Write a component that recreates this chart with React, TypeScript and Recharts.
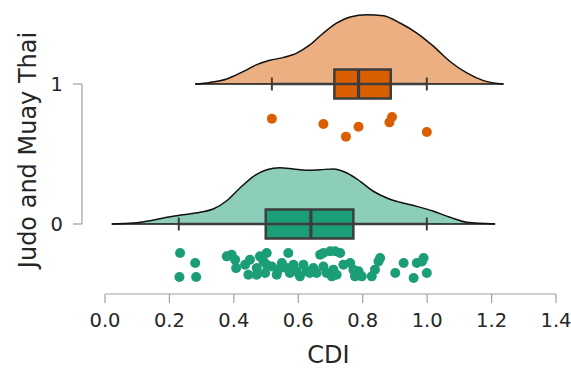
import {
  ComposedChart,
  Area,
  Scatter,
  XAxis,
  YAxis,
  ReferenceArea,
  ReferenceLine,
} from "recharts";

const FONT = "'DejaVu Sans', sans-serif";
const INK = "#262626";
const SPINE = "#a0a0a0";
const EDGE = "#3d3d3d";

const xTicks = [0, 0.2, 0.4, 0.6, 0.8, 1.0, 1.2, 1.4];
const groupTicks = [0, 1];

// group 1 – the orange "cloud" (density outline)
const densityXOne = [0.28, 0.326, 0.378, 0.43, 0.471, 0.512, 0.554, 0.595, 0.637, 0.678, 0.72, 0.761, 0.813, 0.864, 0.916, 0.968, 1.02, 1.071, 1.123, 1.175, 1.237];
const densityOne = [0, 0.011, 0.036, 0.09, 0.138, 0.169, 0.19, 0.221, 0.281, 0.364, 0.436, 0.479, 0.495, 0.488, 0.436, 0.364, 0.269, 0.161, 0.079, 0.024, 0];
const pointsOne = [0.518, 0.678, 0.748, 0.787, 0.883, 0.891, 0.999];
const jitterOne = [0.248, 0.286, 0.376, 0.305, 0.274, 0.236, 0.343];
// low whisker, q1, median, q3, high whisker
const boxOne = [0.518, 0.712, 0.787, 0.887, 0.999];

// group 0 – the green one
const densityXZero = [0.021, 0.088, 0.14, 0.192, 0.243, 0.295, 0.336, 0.378, 0.419, 0.461, 0.502, 0.543, 0.585, 0.626, 0.668, 0.709, 0.751, 0.792, 0.833, 0.875, 0.916, 0.968, 1.02, 1.071, 1.123, 1.211];
const densityZero = [0, 0.007, 0.024, 0.048, 0.066, 0.084, 0.107, 0.166, 0.257, 0.341, 0.388, 0.402, 0.393, 0.384, 0.388, 0.393, 0.364, 0.305, 0.234, 0.186, 0.155, 0.126, 0.091, 0.048, 0.012, 0];
const pointsZero = [
  0.233, 0.28, 0.231, 0.283, 0.393, 0.404, 0.407, 0.435, 0.445, 0.471,
  0.481, 0.502, 0.492, 0.497, 0.518, 0.538, 0.549, 0.569, 0.564, 0.574,
  0.595, 0.616, 0.626, 0.647, 0.657, 0.678, 0.699, 0.714, 0.73, 0.678,
  0.688, 0.709, 0.719, 0.74, 0.761, 0.771, 0.776, 0.797, 0.828, 0.838,
  0.849, 0.854, 0.901, 0.927, 0.958, 0.968, 0.989, 0.999, 0.45, 0.471,
  0.533, 0.502, 0.585, 0.605, 0.636, 0.668, 0.704, 0.787, 0.984, 0.378,
];
const jitterZero = [
  0.207, 0.279, 0.379, 0.379, 0.219, 0.255, 0.315, 0.291, 0.362, 0.315,
  0.231, 0.207, 0.267, 0.35, 0.303, 0.326, 0.279, 0.207, 0.315, 0.35,
  0.338, 0.291, 0.338, 0.315, 0.35, 0.207, 0.195, 0.195, 0.207, 0.303,
  0.35, 0.326, 0.362, 0.291, 0.279, 0.326, 0.374, 0.374, 0.374, 0.326,
  0.267, 0.243, 0.35, 0.279, 0.386, 0.279, 0.243, 0.35, 0.255, 0.362,
  0.362, 0.291, 0.291, 0.374, 0.35, 0.219, 0.374, 0.338, 0.267, 0.231,
];
const boxZero = [0.229, 0.499, 0.639, 0.771, 0.999];

const BOX_HALF = 0.104;
const CAP_HALF = 0.046;
const SPINE_X = -0.0714;

const groups = [
  { level: 1, dx: densityXOne, dh: densityOne, px: pointsOne, jit: jitterOne, box: boxOne, dark: "#d95f02", light: "#ecaf81" },
  { level: 0, dx: densityXZero, dh: densityZero, px: pointsZero, jit: jitterZero, box: boxZero, dark: "#1b9e77", light: "#8dcebb" },
];

function YTick(props: any) {
  const { y, payload } = props;
  return (
    <g>
      <line x1={73} x2={82} y1={y} y2={y} stroke={SPINE} strokeWidth={1.2} />
      <text x={63} y={y} dy="0.36em" textAnchor="end" fontSize={19.5} fontFamily={FONT} fill={INK}>
        {payload.value}
      </text>
    </g>
  );
}

function YLabel({ viewBox }: any) {
  const cx = viewBox.x + 28;
  const cy = viewBox.y + viewBox.height / 2 + 3;
  return (
    <text x={cx} y={cy} transform={`rotate(-90 ${cx} ${cy})`} textAnchor="middle" dominantBaseline="central" fontSize={24} fontFamily={FONT} fill={INK}>
      Judo and Muay Thai
    </text>
  );
}

function XLabel({ viewBox }: any) {
  const cx = viewBox.x + viewBox.width / 2 - 2;
  const cy = viewBox.y + 61;
  return (
    <text x={cx} y={cy} textAnchor="middle" dominantBaseline="central" fontSize={24} fontFamily={FONT} fill={INK}>
      CDI
    </text>
  );
}

export default function App() {
  return (
    <>
      <style>{`body { margin: 0; }`}</style>
      <ComposedChart width={571} height={369} margin={{ top: 0, right: 15, bottom: 0, left: 0 }}>
        <XAxis
          type="number"
          dataKey="x"
          domain={[0, 1.4]}
          ticks={xTicks}
          allowDataOverflow
          tickFormatter={(v: number) => v.toFixed(1)}
          height={75}
          stroke={SPINE}
          axisLine={{ stroke: SPINE, strokeWidth: 1.2 }}
          tickLine={{ stroke: SPINE, strokeWidth: 1.2 }}
          tickSize={9}
          tickMargin={10}
          tick={{ fill: INK, fontSize: 19.5, fontFamily: FONT }}
          label={<XLabel />}
        />
        <YAxis
          type="number"
          dataKey="y"
          domain={[-0.5, 1.6]}
          ticks={groupTicks}
          allowDataOverflow
          width={105}
          axisLine={false}
          tickLine={false}
          tick={<YTick />}
          label={<YLabel />}
        />
        <ReferenceLine
          segment={[{ x: SPINE_X, y: 0 }, { x: SPINE_X, y: 1 }]}
          ifOverflow="visible"
          stroke={SPINE}
          strokeWidth={1.2}
        />
        {groups.map((g) => (
          <Area
            key={`cloud-${g.level}`}
            data={g.dx.map((x, i) => ({ x, y: g.level + g.dh[i] }))}
            dataKey="y"
            type="monotone"
            baseValue={g.level}
            fill={g.light}
            fillOpacity={1}
            stroke="#111"
            strokeWidth={1.5}
            dot={false}
            activeDot={false}
            isAnimationActive={false}
          />
        ))}
        {groups.map((g) => (
          <ReferenceLine
            key={`base-${g.level}`}
            segment={[{ x: g.dx[0], y: g.level }, { x: g.dx[g.dx.length - 1], y: g.level }]}
            stroke="#111"
            strokeWidth={1.4}
          />
        ))}
        {groups.map((g) => (
          <ReferenceLine
            key={`whisker-${g.level}`}
            segment={[{ x: g.box[0], y: g.level }, { x: g.box[4], y: g.level }]}
            stroke={EDGE}
            strokeWidth={2.5}
          />
        ))}
        {groups.map((g) => (
          <ReferenceArea
            key={`box-${g.level}`}
            x1={g.box[1]}
            x2={g.box[3]}
            y1={g.level - BOX_HALF}
            y2={g.level + BOX_HALF}
            fill={g.dark}
            fillOpacity={1}
            stroke={EDGE}
            strokeWidth={2.5}
          />
        ))}
        {groups.map((g) =>
          [g.box[0], g.box[2], g.box[4]].map((v, j) => (
            <ReferenceLine
              key={`mark-${g.level}-${j}`}
              segment={[
                { x: v, y: g.level - (j === 1 ? BOX_HALF : CAP_HALF) },
                { x: v, y: g.level + (j === 1 ? BOX_HALF : CAP_HALF) },
              ]}
              stroke={EDGE}
              strokeWidth={j === 1 ? 3.2 : 2}
            />
          ))
        )}
        {groups.map((g) => (
          <Scatter
            key={`rain-${g.level}`}
            data={g.px.map((x, i) => ({ x, y: g.level - g.jit[i] }))}
            dataKey="y"
            fill={g.dark}
            isAnimationActive={false}
            shape={(p: any) => <circle cx={p.cx} cy={p.cy} r={5} fill={g.dark} />}
          />
        ))}
      </ComposedChart>
    </>
  );
}
